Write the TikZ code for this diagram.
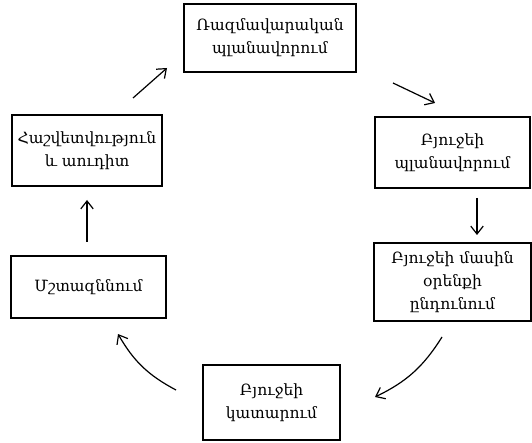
\documentclass[tikz,border=0pt]{standalone}
\usepackage{fontspec}
\setmainfont{DejaVu Serif}
\usetikzlibrary{arrows.meta}

\begin{document}
\begin{tikzpicture}[x=1pt,y=1pt,
    stage/.style={draw,line width=1.4pt,rectangle,align=center,inner sep=0pt,
      font=\fontsize{15.5}{23}\selectfont},
    flow/.style={line width=1.2pt,-{Straight Barb[length=2.8mm,width=4.4mm,line width=1.2pt]}}]
    \useasboundingbox (0,0) rectangle (532,442);
    \node [stage,minimum width=172,minimum height=68] (strat) at (270,404) {Ռազմավարական\\պլանավորում};
    \node [stage,minimum width=155,minimum height=71] (plan) at (452.5,289.5) {Բյուջեի\\պլանավորում};
    \node [stage,minimum width=157,minimum height=78] (law) at (452.5,160) {Բյուջեի մասին\\օրենքի\\ընդունում};
    \node [stage,minimum width=137,minimum height=75] (exec) at (271.5,39.5) {Բյուջեի\\կատարում};
    \node [stage,minimum width=155,minimum height=62] (monit) at (88.5,155) {Մշտազննում};
    \node [stage,minimum width=150,minimum height=71] (audit) at (87,291.5) {Հաշվետվություն\\և աուդիտ};
    \coordinate (a1) at (133,344);
    \coordinate (a2) at (167,374);
    \coordinate (b1) at (393,359);
    \coordinate (b2) at (435,339);
    \coordinate (c1) at (477,244);
    \coordinate (c2) at (477,207);
    \coordinate (d1) at (442,105);
    \coordinate (d2) at (375,45);
    \coordinate (e1) at (176,52);
    \coordinate (e2) at (118,108);
    \coordinate (f1) at (87,200);
    \coordinate (f2) at (87,242);
    \draw [flow] (a1) -- (a2);
    \draw [flow] (b1) -- (b2);
    \draw [flow] (c1) -- (c2);
    \draw [flow] (d1) to[bend left=16] (d2);
    \draw [flow] (e1) to[bend left=16] (e2);
    \draw [flow] (f1) -- (f2);
\end{tikzpicture}
\end{document}
